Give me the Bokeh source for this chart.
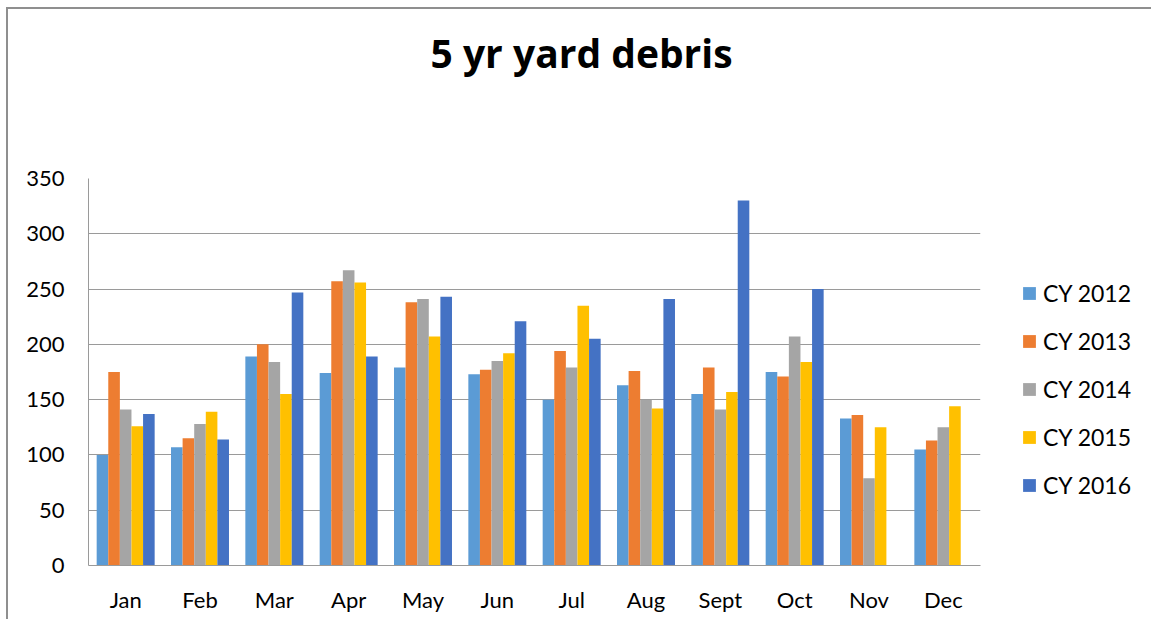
from bokeh.plotting import figure
from bokeh.models import ColumnDataSource, FactorRange, Legend, LegendItem, SingleIntervalTicker, Title
from bokeh.transform import dodge
from bokeh.embed import file_html
from bokeh.resources import INLINE

nan = float("nan")

months = ["Jan", "Feb", "Mar", "Apr", "May", "Jun", "Jul", "Aug", "Sept", "Oct", "Nov", "Dec"]
series_names = ["CY 2012", "CY 2013", "CY 2014", "CY 2015", "CY 2016"]
cy2012 = [100, 107, 189, 174, 179, 173, 150, 163, 155, 175, 133, 105]
cy2013 = [175, 115, 200, 257, 238, 177, 194, 176, 179, 171, 136, 113]
cy2014 = [141, 128, 184, 267, 241, 185, 179, 150, 141, 207, 79, 125]
cy2015 = [126, 139, 155, 256, 207, 192, 235, 142, 157, 184, 125, 144]
cy2016 = [137, 114, 247, 189, 243, 221, 205, 241, 330, 250, nan, nan]
colors = ["#5B9BD5", "#ED7D31", "#A5A5A5", "#FFC000", "#4472C4"]

source = ColumnDataSource(dict(month=months, s0=cy2012, s1=cy2013, s2=cy2014, s3=cy2015, s4=cy2016))

FONT = "Lato"

p = figure(
    frame_width=892, frame_height=387,
    x_range=FactorRange(*months), y_range=(0, 350),
    output_backend="svg", toolbar_location=None,
    min_border_left=80, min_border_right=160, min_border_top=169, min_border_bottom=54,
    outline_line_color=None,
)
p.title = None
p.styles = {"border-top": "2px solid #8f8f8f", "border-left": "2px solid #8f8f8f",
            "margin-left": "6px", "margin-top": "7px"}

# spacer (closest to the plot area), then the visible title above it
p.add_layout(Title(text=" ", text_font_size="1px", standoff=95, text_color="#ffffff"), "above")
p.add_layout(Title(text="5 yr yard debris", align="left", offset=342, vertical_align="top",
                   standoff=0, text_font="Open Sans", text_font_style="bold",
                   text_font_size="39px", text_color="#000000"), "above")

bw = 0.156
offsets = [-2 * bw, -bw, 0, bw, 2 * bw]
renderers = []
for i, key in enumerate(["s0", "s1", "s2", "s3", "s4"]):
    r = p.vbar(x=dodge("month", offsets[i], range=p.x_range), top=key, width=bw,
               source=source, fill_color=colors[i], line_color=None)
    renderers.append(r)

# axes
p.yaxis.ticker = SingleIntervalTicker(interval=50)
p.yaxis.major_tick_out = 0
p.yaxis.major_tick_in = 0
p.yaxis.major_tick_line_color = None
p.yaxis.minor_tick_line_color = None
p.yaxis.axis_line_color = "#9a9a9a"
p.yaxis.major_label_standoff = 20
p.yaxis.major_label_text_font = FONT
p.yaxis.major_label_text_font_size = "22px"
p.yaxis.major_label_text_color = "#000000"

p.xaxis.major_tick_out = 0
p.xaxis.major_tick_in = 0
p.xaxis.major_tick_line_color = None
p.xaxis.minor_tick_line_color = None
p.xaxis.axis_line_color = "#9a9a9a"
p.xaxis.major_label_standoff = 20
p.xaxis.major_label_text_font = FONT
p.xaxis.major_label_text_font_size = "22px"
p.xaxis.major_label_text_color = "#000000"

p.xgrid.grid_line_color = None
p.ygrid.grid_line_color = "#9a9a9a"
p.ygrid.grid_line_width = 1

legend = Legend(
    items=[LegendItem(label=series_names[i], renderers=[renderers[i]]) for i in range(5)],
    location=(41, 66), orientation="vertical",
    glyph_width=16, glyph_height=16, label_height=20, spacing=20,
    padding=0, margin=0, border_line_color=None, background_fill_alpha=0,
    label_text_font=FONT, label_text_font_size="23px", label_text_color="#000000",
    label_standoff=6,
)
p.add_layout(legend, "right")

open("out.html", "w").write(file_html(p, INLINE))
